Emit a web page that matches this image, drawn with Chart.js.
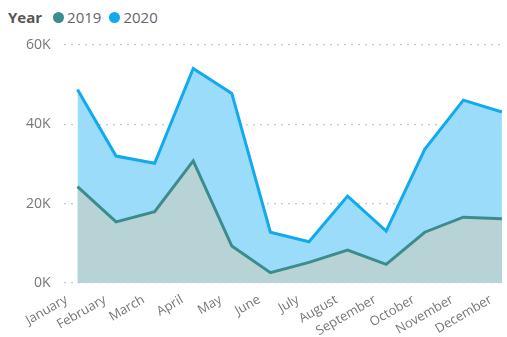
<!DOCTYPE html>
<html>
<head>
<meta charset="utf-8">
<script src="https://cdn.jsdelivr.net/npm/chart.js@4/dist/chart.umd.min.js"></script>
<style>
  html, body { margin: 0; padding: 0; background: #fff; }
  #wrap { position: relative; width: 507px; height: 337px; }
  #legend { position: absolute; left: 8px; top: 7px; font-family: "Open Sans", sans-serif; font-size: 15px; color: #666; display: flex; align-items: center; white-space: nowrap; }
  #legend .title { font-weight: bold; color: #555; margin-right: 11px; }
  #legend .item { display: flex; align-items: center; margin-right: 8px; }
  #legend .dot { width: 11px; height: 11px; border-radius: 50%; margin-right: 3px; }
  canvas { position: absolute; left: 0; top: 0; }
</style>
</head>
<body>
<div id="wrap">
  <div id="legend"></div>
  <canvas id="c" width="507" height="337"></canvas>
</div>
<script>
const months = ["January", "February", "March", "April", "May", "June", "July",
                "August", "September", "October", "November", "December"];
const legendTitle = "Year";
const seriesNames = ["2019", "2020"];
const values2019 = [24300, 15400, 18000, 30800, 9300, 2600, 5200, 8300, 4700, 12800, 16600, 16200];
const values2020 = [48800, 32000, 30200, 54100, 47800, 12800, 10400, 21900, 13100, 33700, 46100, 43100];
const yTicks = [0, 20000, 40000, 60000];
const yTickLabels = ["0K", "20K", "40K", "60K"];

const lineColors = ["#3d8c8d", "#12aaee"];
const fillColors = ["#b7d3d6", "#9adcfa"];

// HTML legend row
const legend = document.getElementById("legend");
const t = document.createElement("span");
t.className = "title";
t.textContent = legendTitle;
legend.appendChild(t);
seriesNames.forEach((name, i) => {
  const item = document.createElement("span");
  item.className = "item";
  const dot = document.createElement("span");
  dot.className = "dot";
  dot.style.background = lineColors[i];
  const lab = document.createElement("span");
  lab.textContent = name;
  item.appendChild(dot);
  item.appendChild(lab);
  legend.appendChild(item);
});

const toPoints = arr => arr.map((v, i) => ({ x: i, y: v }));

new Chart(document.getElementById("c"), {
  type: "line",
  data: {
    datasets: [
      {
        label: seriesNames[0],
        data: toPoints(values2019),
        borderColor: lineColors[0],
        backgroundColor: fillColors[0],
        fill: "origin",
        borderWidth: 3,
        pointRadius: 0,
        tension: 0
      },
      {
        label: seriesNames[1],
        data: toPoints(values2020),
        borderColor: lineColors[1],
        backgroundColor: fillColors[1],
        fill: "origin",
        borderWidth: 3,
        pointRadius: 0,
        tension: 0
      }
    ]
  },
  options: {
    responsive: false,
    animation: false,
    layout: { padding: { top: 45, right: 2, left: 13, bottom: 0 } },
    plugins: { legend: { display: false }, tooltip: { enabled: false } },
    scales: {
      x: {
        type: "linear",
        min: -0.36,
        max: 11.08,
        grid: { display: false, drawTicks: false },
        border: { display: false },
        afterFit: scale => { scale.paddingLeft = 0; scale.paddingRight = 0; scale.height = 54; },
        ticks: {
          stepSize: 1,
          includeBounds: false,
          autoSkip: false,
          minRotation: 30,
          maxRotation: 30,
          padding: 9,
          labelOffset: -11,
          color: "#777",
          font: { family: "Open Sans", size: 13 },
          callback: v => (Number.isInteger(v) && v >= 0 && v < months.length) ? months[v] : ""
        }
      },
      y: {
        min: 0,
        max: 60000,
        afterBuildTicks: axis => { axis.ticks = yTicks.map(v => ({ value: v })); },
        grid: { color: "#c8c8c8", lineWidth: 1.2, drawTicks: false },
        border: { display: false, dash: [2, 5] },
        ticks: {
          padding: 13,
          color: "#777",
          font: { family: "Open Sans", size: 14 },
          callback: v => yTickLabels[yTicks.indexOf(v)]
        }
      }
    }
  }
});
</script>
</body>
</html>
